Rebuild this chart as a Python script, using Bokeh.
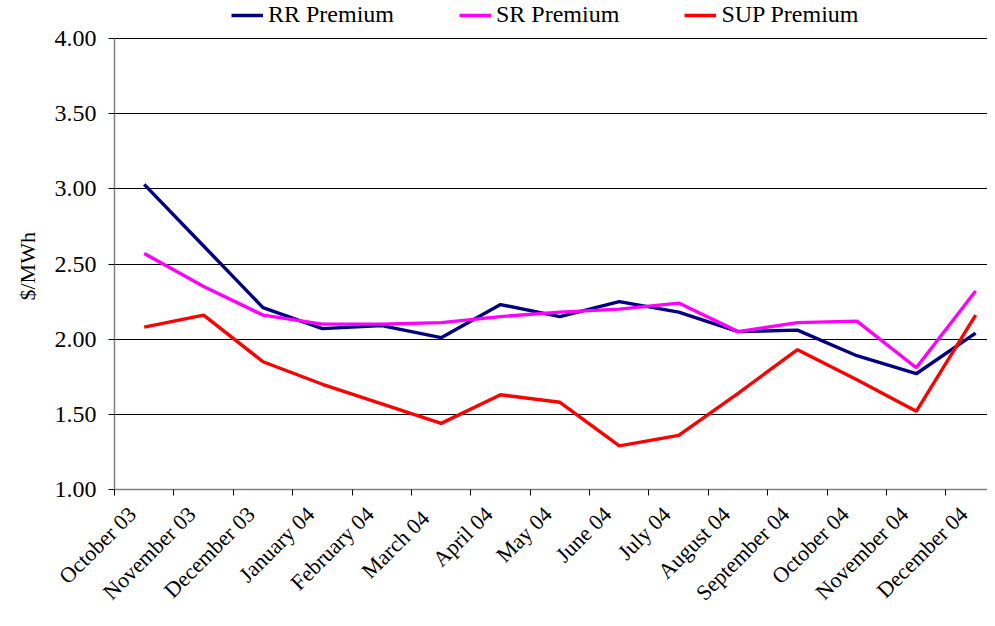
import math
from bokeh.plotting import figure
from bokeh.models import (FixedTicker, PrintfTickFormatter, Legend, LegendItem,
                          Range1d, ColumnDataSource, Title)
from bokeh.embed import file_html
from bokeh.resources import INLINE

months = ["October 03", "November 03", "December 03", "January 04", "February 04",
          "March  04", "April 04", "May 04", "June 04", "July 04", "August 04",
          "September 04", "October 04", "November 04", "December 04"]
rr_premium = [3.03, 2.62, 2.21, 2.07, 2.09, 2.01, 2.23, 2.15, 2.25, 2.18, 2.05,
              2.06, 1.89, 1.77, 2.04]
sr_premium = [2.57, 2.35, 2.16, 2.10, 2.10, 2.11, 2.15, 2.18, 2.20, 2.24, 2.05,
              2.11, 2.12, 1.81, 2.32]
sup_premium = [2.08, 2.16, 1.85, 1.70, 1.57, 1.44, 1.63, 1.58, 1.29, 1.36, 1.64,
               1.93, 1.73, 1.52, 2.16]
y_ticks = [1.0, 1.5, 2.0, 2.5, 3.0, 3.5, 4.0]
y_title = "$/MWh"

FONT = "Liberation Serif"

# frame starts at the top of the canvas; leave headroom above 4.00 for the legend
FRAME_BOTTOM = 489
TOP_GAP = 38
y_lo, y_hi = min(y_ticks), max(y_ticks)
frac = TOP_GAP / FRAME_BOTTOM
y_end = (y_hi - frac * y_lo) / (1 - frac)

xc = [i + 0.5 for i in range(len(months))]
src = ColumnDataSource(dict(x=xc, rr=rr_premium, sr=sr_premium, sup=sup_premium))

p = figure(width=987, height=618, output_backend="svg", toolbar_location=None,
           x_range=Range1d(0, 14.70), y_range=Range1d(y_lo, y_end),
           min_border_left=114, min_border_right=0, min_border_top=0,
           min_border_bottom=618 - FRAME_BOTTOM)
p.outline_line_color = None
p.background_fill_color = "white"
p.border_fill_color = "white"

r1 = p.line("x", "rr", source=src, line_color="#000080", line_width=3.4)
r2 = p.line("x", "sr", source=src, line_color="#FF00FF", line_width=3.4)
r3 = p.line("x", "sup", source=src, line_color="#FF0000", line_width=3.4)

# x axis: labels slightly left of the category centre, ticks on boundaries
label_pos = [x - 0.2 for x in xc]
xa = p.xaxis[0]
xa.ticker = FixedTicker(ticks=label_pos, minor_ticks=list(range(len(months) + 1)))
xa.major_label_overrides = {x: m for x, m in zip(label_pos, months)}
xa.major_label_orientation = math.pi / 4
xa.major_tick_line_color = None
xa.minor_tick_in = 0
xa.minor_tick_out = 6
xa.minor_tick_line_color = "#000000"
xa.axis_line_color = "#808080"
xa.axis_line_width = 1.5
xa.major_label_text_font = FONT
xa.major_label_text_font_size = "22px"
xa.major_label_text_color = "black"
xa.major_label_standoff = 15

# y axis
ya = p.yaxis[0]
ya.ticker = FixedTicker(ticks=y_ticks, minor_ticks=[])
ya.formatter = PrintfTickFormatter(format="%.2f")
ya.bounds = (y_lo, y_hi)
ya.major_tick_in = 0
ya.major_tick_out = 6
ya.major_tick_line_color = "#000000"
ya.minor_tick_line_color = None
ya.axis_line_color = "#808080"
ya.axis_line_width = 1.5
ya.major_label_text_font = FONT
ya.major_label_text_font_size = "24px"
ya.major_label_text_color = "black"
ya.major_label_standoff = 12

# y-axis title as a side title so it can be centred on the 1.00-4.00 span
yt = Title(text=y_title, align="left", offset=189, standoff=23,
           text_font=FONT, text_font_size="22px", text_font_style="normal",
           text_color="black")
p.add_layout(yt, "left")

p.xgrid.grid_line_color = None
p.ygrid.grid_line_color = "#000000"
p.ygrid.grid_line_width = 1

legend = Legend(items=[LegendItem(label="RR Premium", renderers=[r1]),
                       LegendItem(label="SR Premium", renderers=[r2]),
                       LegendItem(label="SUP Premium", renderers=[r3])],
                orientation="horizontal", location=(117, 461),
                label_text_font=FONT, label_text_font_size="24px",
                label_text_color="black",
                glyph_width=32, glyph_height=20, label_standoff=5,
                spacing=65, padding=0, margin=0, border_line_color=None,
                background_fill_color=None, background_fill_alpha=0,
                label_height=20)
p.add_layout(legend)

open("out.html", "w").write(file_html(p, INLINE))
